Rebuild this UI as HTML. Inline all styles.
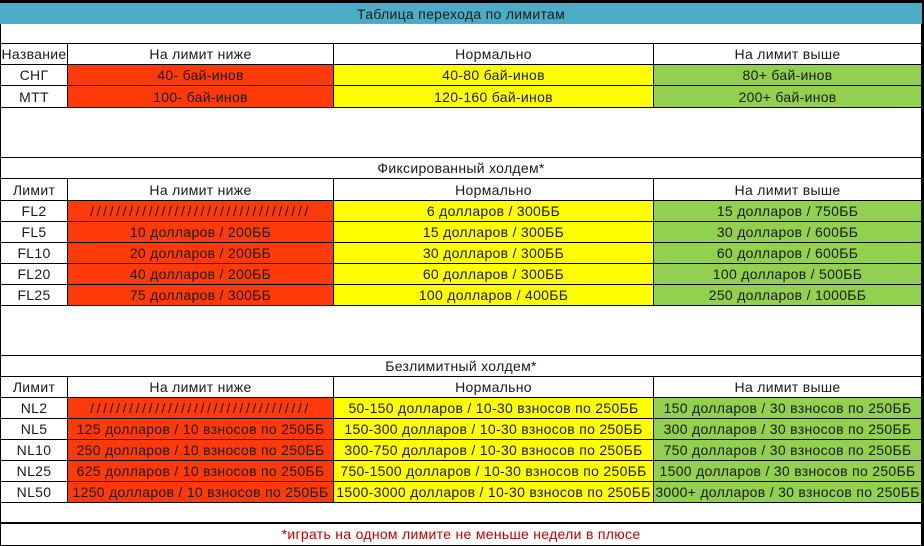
<!DOCTYPE html>
<html><head><meta charset="utf-8"><style>
html,body{margin:0;padding:0;background:#000;}
body{width:924px;height:545px;overflow:hidden;}
table{position:absolute;left:0;top:3px;width:921px;border-collapse:collapse;table-layout:fixed;background:#fff;
font-family:"Liberation Sans","DejaVu Sans",sans-serif;font-size:14px;letter-spacing:0.3px;color:#1a1a1a;}
td{border:1px solid #000;padding:0;text-align:center;white-space:nowrap;overflow:hidden;line-height:16px;}
.t{background:#4bacc6;border-color:#4bacc6;}
.r{background:#ff3a0a;}.y{background:#ffff00;}.g{background:#92d050;}
.s{letter-spacing:2.6px;}
.f{color:#c00000;border-top:2px solid #000;}
</style></head><body>
<table>
<colgroup><col style="width:67px"><col style="width:266px"><col style="width:320px"><col style="width:268px"></colgroup>
<tr style="height:20px"><td colspan="4" class="t">Таблица перехода по лимитам</td></tr>
<tr style="height:20px"><td colspan="4"></td></tr>
<tr style="height:21px"><td>Название</td><td>На лимит ниже</td><td>Нормально</td><td>На лимит выше</td></tr>
<tr style="height:21px"><td>СНГ</td><td class="r">40- бай-инов</td><td class="y">40-80 бай-инов</td><td class="g">80+ бай-инов</td></tr>
<tr style="height:22px"><td>МТТ</td><td class="r">100- бай-инов</td><td class="y">120-160 бай-инов</td><td class="g">200+ бай-инов</td></tr>
<tr style="height:50px"><td colspan="4"></td></tr>
<tr style="height:21px"><td colspan="4">Фиксированный холдем*</td></tr>
<tr style="height:22px"><td>Лимит</td><td>На лимит ниже</td><td>Нормально</td><td>На лимит выше</td></tr>
<tr style="height:21px"><td>FL2</td><td class="r s">//////////////////////////////////</td><td class="y">6 долларов / 300ББ</td><td class="g">15 долларов / 750ББ</td></tr>
<tr style="height:21px"><td>FL5</td><td class="r">10 долларов / 200ББ</td><td class="y">15 долларов / 300ББ</td><td class="g">30 долларов / 600ББ</td></tr>
<tr style="height:21px"><td>FL10</td><td class="r">20 долларов / 200ББ</td><td class="y">30 долларов / 300ББ</td><td class="g">60 долларов / 600ББ</td></tr>
<tr style="height:21px"><td>FL20</td><td class="r">40 долларов / 200ББ</td><td class="y">60 долларов / 300ББ</td><td class="g">100 долларов / 500ББ</td></tr>
<tr style="height:21px"><td>FL25</td><td class="r">75 долларов / 300ББ</td><td class="y">100 долларов / 400ББ</td><td class="g">250 долларов / 1000ББ</td></tr>
<tr style="height:50px"><td colspan="4"></td></tr>
<tr style="height:21px"><td colspan="4">Безлимитный холдем*</td></tr>
<tr style="height:21px"><td>Лимит</td><td>На лимит ниже</td><td>Нормально</td><td>На лимит выше</td></tr>
<tr style="height:21px"><td>NL2</td><td class="r s">//////////////////////////////////</td><td class="y">50-150 долларов / 10-30 взносов по 250ББ</td><td class="g">150 долларов / 30 взносов по 250ББ</td></tr>
<tr style="height:21px"><td>NL5</td><td class="r">125 долларов / 10 взносов по 250ББ</td><td class="y">150-300 долларов / 10-30 взносов по 250ББ</td><td class="g">300 долларов / 30 взносов по 250ББ</td></tr>
<tr style="height:21px"><td>NL10</td><td class="r">250 долларов / 10 взносов по 250ББ</td><td class="y">300-750 долларов / 10-30 взносов по 250ББ</td><td class="g">750 долларов / 30 взносов по 250ББ</td></tr>
<tr style="height:21px"><td>NL25</td><td class="r">625 долларов / 10 взносов по 250ББ</td><td class="y">750-1500 долларов / 10-30 взносов по 250ББ</td><td class="g">1500 долларов / 30 взносов по 250ББ</td></tr>
<tr style="height:21px"><td>NL50</td><td class="r">1250 долларов / 10 взносов по 250ББ</td><td class="y">1500-3000 долларов / 10-30 взносов по 250ББ</td><td class="g">3000+ долларов / 30 взносов по 250ББ</td></tr>
<tr style="height:20px"><td colspan="4"></td></tr>
<tr style="height:23px"><td colspan="4" class="f">*играть на одном лимите не меньше недели в плюсе</td></tr>
</table>
</body></html>
